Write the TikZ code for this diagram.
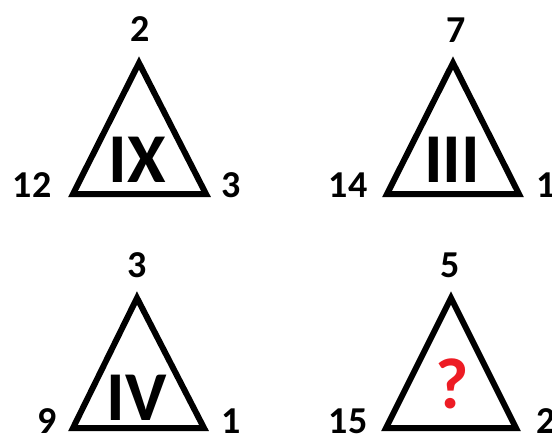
\documentclass[tikz,border=0pt]{standalone}
\usepackage{fontspec}
\setmainfont{Carlito}
\tikzset{
  tri/.style={draw=black, line width=6pt, line join=miter},
  num/.style={font=\fontsize{38}{38}\selectfont\bfseries, inner sep=0pt, text=black},
  roman/.style={font=\fontsize{70}{70}\selectfont\bfseries, inner sep=0pt, text=black},
  qmark/.style={font=\fontsize{72}{72}\selectfont\bfseries, inner sep=0pt, text=qred},
}
\definecolor{qred}{HTML}{ED1C24}
\begin{document}
\begin{tikzpicture}[x=1pt,y=-1pt]
\useasboundingbox (0,0) rectangle (552,436);
% top-left
\draw[tri] (139,63) coordinate (a1) -- (73,194) coordinate (b1) -- (206,194) coordinate (c1) -- cycle;
\node[num] (t1) at (140,29) {2};
\node[num] (l1) at (32,185) {12};
\node[num] (r1) at (231,185) {3};
\node[roman] (m1) at (137,160) {IX};
% top-right
\draw[tri] (453,63) coordinate (a2) -- (387,194) coordinate (b2) -- (519,194) coordinate (c2) -- cycle;
\node[num] (t2) at (456,30) {7};
\node[num] (l2) at (348,185) {14};
\node[num] (r2) at (546,185) {1};
\node[roman] (m2) at (452,160) {III};
% bottom-left
\draw[tri] (137,298) coordinate (a3) -- (73,428) coordinate (b3) -- (204,428) coordinate (c3) -- cycle;
\node[num] (t3) at (137,265) {3};
\node[num] (l3) at (47,421) {9};
\node[num] (r3) at (231,421) {1};
\node[roman] (m3) at (137,398) {IV};
% bottom-right
\draw[tri] (451,298) coordinate (a4) -- (386,428) coordinate (b4) -- (516,428) coordinate (c4) -- cycle;
\node[num] (t4) at (450,265) {5};
\node[num] (l4) at (348,421) {15};
\node[num] (r4) at (546,421) {2};
\node[qmark] (m4) at (452,384) {?};
\end{tikzpicture}
\end{document}
